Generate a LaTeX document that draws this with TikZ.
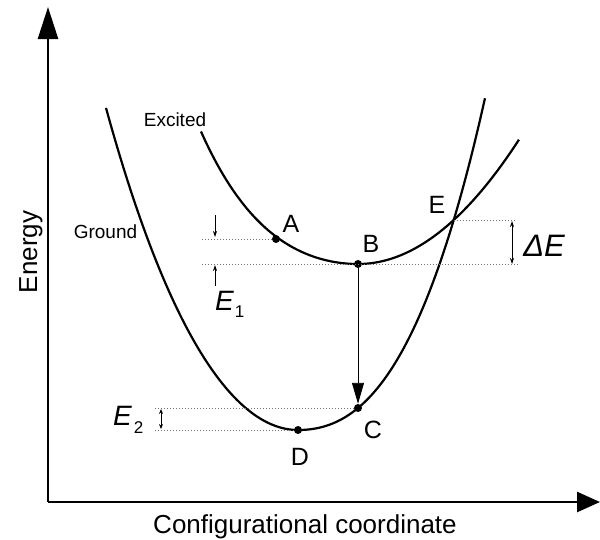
\documentclass[tikz,border=0pt]{standalone}
\usepackage{fontspec}
\setmainfont{Liberation Sans}
\usetikzlibrary{arrows.meta}
\begin{document}
\begin{tikzpicture}[x=1pt,y=-1pt,
  curve/.style={line width=2.2pt, line join=round},
  guide/.style={black!55, line width=0.8pt, dash pattern=on 1pt off 2pt},
  dotpt/.style={circle, fill=black, inner sep=0pt, minimum size=8pt},
  lbl/.style={inner sep=0pt, font=\fontsize{25}{25}\selectfont},
  small/.style={line width=0.8pt},
  axis/.style={line width=2.6pt}]
\useasboundingbox (0,0) rectangle (600,539);

% axes
\coordinate (O) at (48,502);
\coordinate (Ytip) at (48,7);
\coordinate (Xtip) at (600,502);
\draw[axis, -{Triangle[length=32pt,width=20pt]}] (O) -- (Ytip);
\draw[axis, -{Triangle[length=23pt,width=20pt]}] (O) -- (Xtip);
\node[lbl, font=\fontsize{26}{26}\selectfont, anchor=base] (xl) at (305,533) {Configurational coordinate};
\node[lbl, font=\fontsize{26}{26}\selectfont, rotate=90, anchor=base] (yl) at (37,252) {Energy};

% ground curve (u = dx/100)
\draw[curve] plot[domain=-1.92:0, samples=80]
   ({298+100*\x},{430-80*(\x)*(\x)-2*(\x)*(\x)*(\x)*(\x)})
 -- plot[domain=0:1.87, samples=80]
   ({298+100*\x},{430-45.1*(\x)*(\x)-26.64*(\x)*(\x)*(\x)});
% excited curve
\draw[curve] plot[domain=-1.57:0, samples=80]
   ({358+100*\x},{264-36*(\x)*(\x)-7.2*(\x)*(\x)*(\x)*(\x)})
 -- plot[domain=0:1.61, samples=80]
   ({358+100*\x},{264-48*(\x)*(\x)});
\node[lbl, font=\fontsize{19}{19}\selectfont, anchor=base] (exc) at (175,126) {Excited};
\node[lbl, font=\fontsize{19}{19}\selectfont, anchor=base] (gnd) at (105.5,238) {Ground};

% points
\node[dotpt] (A) at (276,239) {};
\node[dotpt] (B) at (358,264) {};
\node[dotpt] (C) at (358,408) {};
\node[dotpt] (D) at (298,430) {};
\coordinate (E) at (454,220);

\node[lbl, anchor=base] (lA) at (291,232) {A};
\node[lbl, anchor=base] (lB) at (371,252) {B};
\node[lbl, anchor=base] (lC) at (373,438) {C};
\node[lbl, anchor=base] (lD) at (300,465) {D};
\node[lbl, anchor=base] (lE) at (437,213) {E};

% transition arrow
\draw[line width=0.9pt, -{Triangle[length=21pt,width=12pt]}] (B) -- (C);

% guide lines
\coordinate (gA) at (202,239);
\coordinate (gB) at (202,264);
\coordinate (gBr) at (518,264);
\coordinate (gEr) at (515,220);
\coordinate (gC) at (155,408);
\coordinate (gD) at (155,430);
\draw[guide] (gA) -- (A);
\draw[guide] (gB) -- (gBr);
\draw[guide] (E) -- (gEr);
\draw[guide] (gC) -- (C);
\draw[guide] (gD) -- (D);

% E1 arrows
\coordinate (e1s) at (215,215);
\coordinate (e1t) at (215,237);
\coordinate (e1u) at (215,286);
\coordinate (e1v) at (215,265);
\draw[small, -{Stealth[length=6pt,width=4pt]}] (e1s) -- (e1t);
\draw[small, -{Stealth[length=6pt,width=4pt]}] (e1u) -- (e1v);
\node[inner sep=0pt, anchor=base west] (E1) at (215,310)
  {\fontsize{28}{28}\selectfont\itshape E\kern1pt\raisebox{-7pt}{\upshape\fontsize{17}{17}\selectfont 1}};

% Delta E arrow
\coordinate (dEa) at (512,221);
\coordinate (dEb) at (512,264);
\draw[small, {Stealth[length=6pt,width=4pt]}-{Stealth[length=6pt,width=4pt]}] (dEa) -- (dEb);
\node[inner sep=0pt, anchor=base] (dE) at (544,256) {\fontsize{31}{31}\selectfont\itshape ΔE};

% E2 arrow
\coordinate (e2a) at (161,409);
\coordinate (e2b) at (161,429);
\draw[small, {Stealth[length=5pt,width=4pt]}-{Stealth[length=5pt,width=4pt]}] (e2a) -- (e2b);
\node[inner sep=0pt, anchor=base west] (E2) at (113,425)
  {\fontsize{28}{28}\selectfont\itshape E\kern2pt\raisebox{-8pt}{\upshape\fontsize{17}{17}\selectfont 2}};
\end{tikzpicture}
\end{document}
